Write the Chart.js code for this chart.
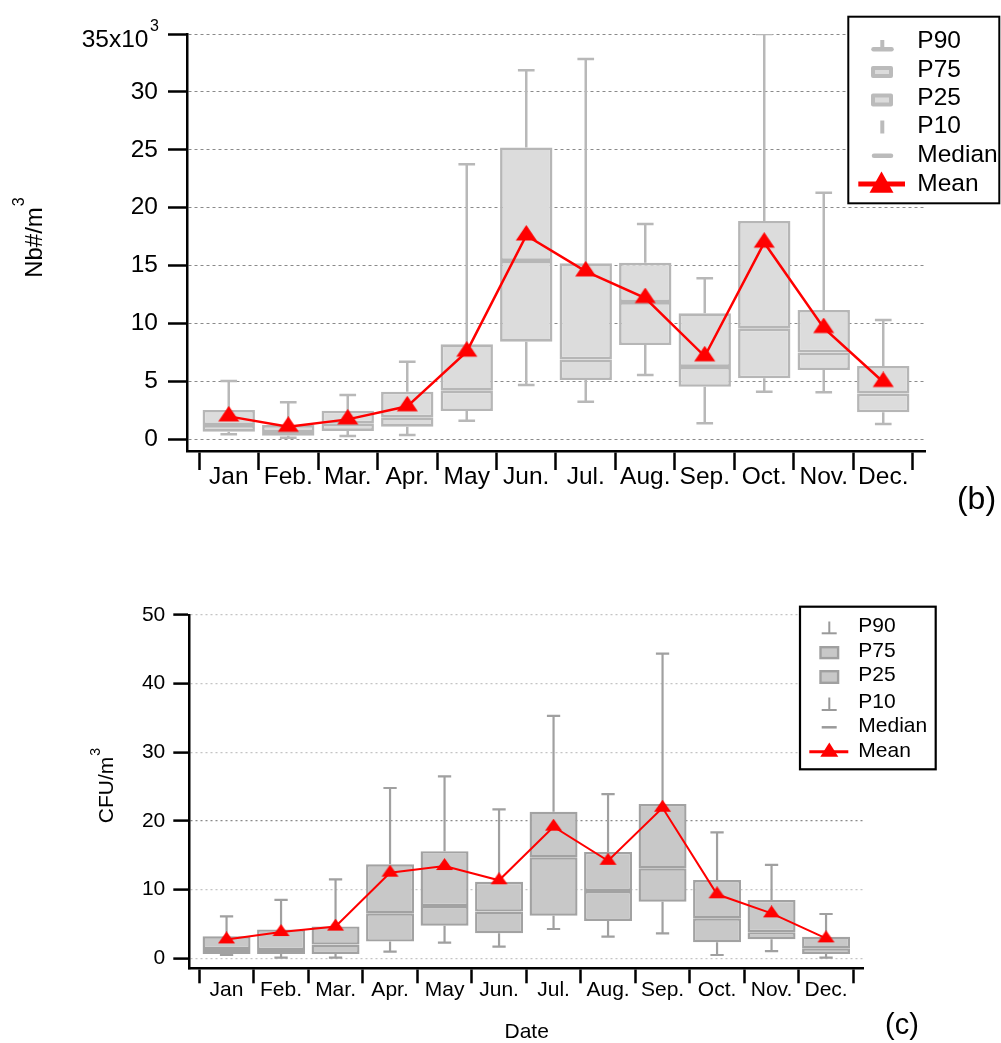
<!DOCTYPE html>
<html>
<head>
<meta charset="utf-8">
<script src="https://cdn.jsdelivr.net/npm/chart.js@4.4.1/dist/chart.umd.min.js"></script>
<style>
  html, body { margin: 0; padding: 0; background: #fff; }
  #wrap { position: relative; width: 1001px; height: 1043px; overflow: hidden; }
  canvas { position: absolute; left: 0; }
  #chartB { top: 0; }
  #chartC { top: 540px; }
</style>
</head>
<body>
<div id="wrap">
  <canvas id="chartB" width="1001" height="540"></canvas>
  <canvas id="chartC" width="1001" height="503"></canvas>
</div>
<script>
// ---- data -------------------------------------------------------------
const months = ['Jan', 'Feb.', 'Mar.', 'Apr.', 'May', 'Jun.', 'Jul.', 'Aug.', 'Sep.', 'Oct.', 'Nov.', 'Dec.'];

// (b) particle number concentration, in 10^3 Nb#/m3
const bP10    = [0.43, 0.14, 0.28, 0.37, 1.60, 4.69, 3.25, 5.55, 1.38, 4.11, 4.06, 1.32];
const bP25    = [0.66, 0.31, 0.72, 1.09, 2.44, 8.43, 5.12, 8.14, 4.54, 5.27, 5.98, 2.33];
const bMedian = [1.23, 0.63, 1.38, 1.90, 4.20, 15.40, 6.90, 11.85, 6.25, 9.55, 7.50, 3.95];
const bP75    = [2.53, 1.23, 2.47, 4.11, 8.20, 25.20, 15.20, 15.25, 10.88, 18.85, 11.17, 6.33];
const bP90    = [5.03, 3.20, 3.83, 6.70, 23.75, 31.87, 32.84, 18.60, 13.90, 35.00, 21.30, 10.30];
const bMean   = [1.98, 1.08, 1.72, 2.85, 7.57, 17.60, 14.50, 12.20, 7.17, 16.98, 9.61, 4.95];
const bTicks  = [0, 5, 10, 15, 20, 25, 30, 35];

// (c) culturable bacteria, CFU/m3
const cP10    = [0.48, 0.10, 0.10, 0.97, 2.28, 1.70, 4.27, 3.15, 3.64, 0.48, 1.06, 0.10];
const cP25    = [0.63, 0.63, 0.63, 2.43, 4.75, 3.64, 6.20, 5.43, 8.25, 2.33, 2.76, 0.63];
const cMedian = [1.35, 1.20, 2.00, 6.55, 7.60, 6.80, 14.70, 9.80, 13.10, 5.82, 3.80, 1.45];
const cP75    = [3.20, 4.20, 4.65, 13.70, 15.60, 11.15, 21.35, 15.50, 22.47, 11.40, 8.50, 3.15];
const cP90    = [6.10, 8.50, 11.50, 24.80, 26.50, 21.70, 35.30, 23.90, 44.36, 18.35, 13.60, 6.45];
const cMean   = [2.75, 3.83, 4.62, 12.47, 13.44, 11.36, 19.17, 14.20, 21.93, 9.32, 6.55, 2.91];
const cTicks  = [0, 10, 20, 30, 40, 50];

const legendLabels = ['P90', 'P75', 'P25', 'P10', 'Median', 'Mean'];

// ---- helpers ------------------------------------------------------------
const FONT = "'Liberation Sans', Arial, Helvetica, sans-serif";
Chart.defaults.font.family = FONT;
Chart.defaults.color = '#000';

// whisker segments (P10-P25, P75-P90) plus caps, separated by gaps
function whiskerPoints(p10, p25, p75, p90, capHalf) {
  const pts = [];
  p10.forEach((_, i) => {
    const gap = { x: i, y: null };
    pts.push({ x: i, y: p10[i] }, { x: i, y: p25[i] }, gap);
    pts.push({ x: i, y: p75[i] }, { x: i, y: p90[i] }, { x: i, y: null });
    pts.push({ x: i - capHalf, y: p90[i] }, { x: i + capHalf, y: p90[i] }, { x: i, y: null });
    pts.push({ x: i - capHalf, y: p10[i] }, { x: i + capHalf, y: p10[i] }, { x: i, y: null });
  });
  return pts;
}

// triangle marker whose centroid sits at the image centre
function triangleMarker(w, h, color) {
  const c = document.createElement('canvas');
  c.width = Math.ceil(w) + 2;
  c.height = Math.round(h * 4 / 3);
  const g = c.getContext('2d');
  const cx = c.width / 2;
  g.fillStyle = color;
  g.beginPath();
  g.moveTo(cx, 0);
  g.lineTo(cx + w / 2, h);
  g.lineTo(cx - w / 2, h);
  g.closePath();
  g.fill();
  return c;
}

function drawTriangle(ctx, cx, tip, base, half, color) {
  ctx.fillStyle = color;
  ctx.beginPath();
  ctx.moveTo(cx, tip);
  ctx.lineTo(cx + half, base);
  ctx.lineTo(cx - half, base);
  ctx.closePath();
  ctx.fill();
}

function line(ctx, x1, y1, x2, y2, w, color, cap) {
  ctx.strokeStyle = color;
  ctx.lineWidth = w;
  ctx.lineCap = cap || 'butt';
  ctx.beginPath();
  ctx.moveTo(x1, y1);
  ctx.lineTo(x2, y2);
  ctx.stroke();
}

// rotated axis title with a raised exponent
function rotatedTitle(ctx, cx, cy, main, sup, size, supSize, supShift) {
  ctx.save();
  ctx.translate(cx, cy);
  ctx.rotate(-Math.PI / 2);
  ctx.fillStyle = '#000';
  ctx.textBaseline = 'middle';
  ctx.textAlign = 'left';
  ctx.font = size + 'px ' + FONT;
  const w = ctx.measureText(main).width;
  ctx.fillText(main, -w / 2, 0);
  ctx.font = supSize + 'px ' + FONT;
  ctx.fillText(sup, w / 2 + 1, supShift);
  ctx.restore();
}

function boxDatasets(p25, med, p75, fill, stroke, bw) {
  const common = {
    type: 'bar', backgroundColor: fill, borderColor: stroke, borderWidth: bw,
    borderSkipped: false, grouped: false, barPercentage: 0.88, categoryPercentage: 1, order: 1
  };
  return [
    Object.assign({ data: months.map((_, i) => ({ x: i, y: [p25[i], med[i]] })) }, common),
    Object.assign({ data: months.map((_, i) => ({ x: i, y: [med[i], p75[i]] })) }, common)
  ];
}

function xAxis(range, tickLen, fontSize, pad, height) {
  return {
    type: 'linear', min: range[0], max: range[1], offset: false,
    afterBuildTicks: s => { s.ticks = months.map((_, i) => ({ value: i })); },
    afterFit: s => { s.height = height; },
    ticks: {
      autoSkip: false, maxRotation: 0, minRotation: 0, padding: pad,
      font: { size: fontSize }, color: '#000',
      callback: v => months[v] !== undefined ? months[v] : ''
    },
    grid: {
      offset: true, drawOnChartArea: false, drawTicks: true,
      tickLength: tickLen, tickWidth: 2.5, tickColor: '#000', color: '#000'
    },
    border: { display: true, color: '#000', width: 2.5 }
  };
}

// ---- (b) particle numbers -------------------------------------------------
const overlayB = {
  id: 'overlayB',
  afterDraw(chart) {
    const ctx = chart.ctx;
    const ys = chart.scales.y;
    ctx.save();
    // top tick label: 35x10^3
    const yTop = ys.getPixelForValue(bTicks[bTicks.length - 1]);
    ctx.fillStyle = '#000';
    ctx.textBaseline = 'middle';
    ctx.textAlign = 'right';
    ctx.font = '24.5px ' + FONT;
    ctx.fillText(bTicks[bTicks.length - 1] + 'x10', 148.5, yTop + 6);
    ctx.textAlign = 'left';
    ctx.font = '16px ' + FONT;
    ctx.fillText('3', 150, yTop - 7.5);

    rotatedTitle(ctx, 35, 242.5, 'Nb#/m', '3', 24, 16, -15.5);

    ctx.fillStyle = '#000';
    ctx.textAlign = 'center';
    ctx.textBaseline = 'middle';
    ctx.font = '32px ' + FONT;
    ctx.fillText('(b)', 976.5, 500);

    // legend
    ctx.fillStyle = '#fff';
    ctx.fillRect(848.3, 16.7, 151, 186.6);
    ctx.strokeStyle = '#000';
    ctx.lineWidth = 2;
    ctx.strokeRect(848.3, 16.7, 151, 186.6);
    const g = '#bbbbbb';
    const sx = 882.3;
    // P90
    line(ctx, sx, 40, sx, 49, 4, g);
    line(ctx, 873.5, 49.3, 891.5, 49.3, 4.5, g, 'round');
    // P75 / P25 boxes
    ctx.lineJoin = 'round';
    [[66, 78], [93.5, 106.5]].forEach(([t, b]) => {
      ctx.fillStyle = '#dcdcdc';
      ctx.fillRect(873, t + 2, 18, b - t - 4);
      ctx.strokeStyle = g;
      ctx.lineWidth = 4;
      ctx.strokeRect(873, t + 2, 18, b - t - 4);
    });
    // P10
    line(ctx, sx, 120.5, sx, 133.5, 4, g);
    // Median
    line(ctx, 874, 155.7, 891, 155.7, 4.5, g, 'round');
    // Mean
    line(ctx, 858.3, 184, 905, 184, 5, '#ff0000');
    drawTriangle(ctx, 881.5, 171.5, 192.7, 12, '#ff0000');
    ctx.fillStyle = '#000';
    ctx.textAlign = 'left';
    ctx.textBaseline = 'middle';
    ctx.font = '24.5px ' + FONT;
    const rowsB = [41.7, 70, 98.3, 126.7, 155, 184];
    legendLabels.forEach((t, i) => ctx.fillText(t, 917.3, rowsB[i]));
    ctx.restore();
  }
};

new Chart(document.getElementById('chartB'), {
  type: 'bar',
  data: {
    datasets: [
      {
        type: 'line', data: months.map((_, i) => ({ x: i, y: bMean[i] })),
        borderColor: '#ff0000', borderWidth: 2.5, tension: 0,
        pointStyle: triangleMarker(21, 15.5, '#ff0000'), pointRadius: 10,
        backgroundColor: '#ff0000', order: 0
      },
      ...boxDatasets(bP25, bMedian, bP75, '#dcdcdc', '#b6b6b6', 2.6),
      {
        type: 'line', data: whiskerPoints(bP10, bP25, bP75, bP90, 0.14),
        borderColor: '#b8b8b8', borderWidth: 2.5, pointRadius: 0, spanGaps: false,
        tension: 0, order: 2
      }
    ]
  },
  options: {
    responsive: false, animation: false, events: [],
    layout: { autoPadding: false, padding: { left: 0, top: 34, right: 76, bottom: 0 } },
    plugins: { legend: { display: false }, tooltip: { enabled: false } },
    scales: {
      x: xAxis([-0.7017, 11.7017], 19, 24.5, -7, 89),
      y: {
        type: 'linear', min: -1.01, max: 35,
        afterBuildTicks: s => { s.ticks = bTicks.map(v => ({ value: v })); },
        afterFit: s => { s.width = 187; },
        ticks: {
          padding: 10, font: { size: 24.5 }, color: '#000',
          callback: v => (v === bTicks[bTicks.length - 1] ? '' : String(v))
        },
        grid: {
          color: '#8a8a8a', lineWidth: 1, drawTicks: true, tickLength: 19,
          tickWidth: 2.5, tickColor: '#000'
        },
        border: { display: true, color: '#000', width: 2.5, dash: [3, 3] }
      }
    }
  },
  plugins: [overlayB]
});

// ---- (c) culturable bacteria ------------------------------------------------
const overlayC = {
  id: 'overlayC',
  afterDraw(chart) {
    const ctx = chart.ctx;
    ctx.save();
    rotatedTitle(ctx, 107.5, 250, 'CFU/m', '3', 21, 14, -11);

    ctx.fillStyle = '#000';
    ctx.textBaseline = 'middle';
    ctx.textAlign = 'center';
    ctx.font = '21px ' + FONT;
    ctx.fillText('Date', 526.7, 492.7);
    ctx.font = '29px ' + FONT;
    ctx.fillText('(c)', 902, 486);

    // legend
    ctx.fillStyle = '#fff';
    ctx.fillRect(800, 66.7, 135.7, 162.6);
    ctx.strokeStyle = '#000';
    ctx.lineWidth = 2.2;
    ctx.strokeRect(800, 66.7, 135.7, 162.6);
    const g = '#9a9a9a';
    const sx = 829.3;
    // P90
    line(ctx, sx, 81.5, sx, 93.3, 2, g);
    line(ctx, 821.7, 93.3, 836.7, 93.3, 2, g);
    // P75 / P25 boxes
    [[106, 119.3], [130, 144]].forEach(([t, b]) => {
      ctx.fillStyle = '#c8c8c8';
      ctx.fillRect(820.5, t + 1.2, 17.6, b - t - 2.4);
      ctx.strokeStyle = '#a0a0a0';
      ctx.lineWidth = 2.4;
      ctx.strokeRect(820.5, t + 1.2, 17.6, b - t - 2.4);
    });
    // P10
    line(ctx, sx, 157.5, sx, 170, 2, g);
    line(ctx, 821.7, 170, 836.7, 170, 2, g);
    // Median
    line(ctx, 821.7, 187.3, 836.7, 187.3, 2.5, g);
    // Mean
    line(ctx, 809.3, 211.7, 848.3, 211.7, 3, '#ff0000');
    drawTriangle(ctx, 829.3, 202.5, 216.7, 9, '#ff0000');
    ctx.fillStyle = '#000';
    ctx.textAlign = 'left';
    ctx.textBaseline = 'middle';
    ctx.font = '21px ' + FONT;
    const rowsC = [86, 111, 135.3, 162, 186.7, 211.7];
    legendLabels.forEach((t, i) => ctx.fillText(t, 858.3, rowsC[i]));
    ctx.restore();
  }
};

new Chart(document.getElementById('chartC'), {
  type: 'bar',
  data: {
    datasets: [
      {
        type: 'line', data: months.map((_, i) => ({ x: i, y: cMean[i] })),
        borderColor: '#ff0000', borderWidth: 2, tension: 0,
        pointStyle: triangleMarker(17, 12, '#ff0000'), pointRadius: 8,
        backgroundColor: '#ff0000', order: 0
      },
      ...boxDatasets(cP25, cMedian, cP75, '#c8c8c8', '#a2a2a2', 2.4),
      {
        type: 'line', data: whiskerPoints(cP10, cP25, cP75, cP90, 0.122),
        borderColor: '#a0a0a0', borderWidth: 2.2, pointRadius: 0, spanGaps: false,
        tension: 0, order: 2
      }
    ]
  },
  options: {
    responsive: false, animation: false, events: [],
    layout: { autoPadding: false, padding: { left: 0, top: 75, right: 137.7, bottom: 0 } },
    plugins: { legend: { display: false }, tooltip: { enabled: false } },
    scales: {
      x: xAxis([-0.6835, 11.6835], 15, 21, -5.9, 74.7),
      y: {
        type: 'linear', min: -1.456, max: 50,
        afterBuildTicks: s => { s.ticks = cTicks.map(v => ({ value: v })); },
        afterFit: s => { s.width = 189.3; },
        ticks: { padding: 8, font: { size: 21 }, color: '#000' },
        grid: {
          color: c => (c.tick && c.tick.value === 20 ? '#8a8a8a' : '#c4c4c4'),
          lineWidth: 1.2, drawTicks: true, tickLength: 16,
          tickWidth: 2.5, tickColor: '#000'
        },
        border: { display: true, color: '#000', width: 2.5, dash: [2, 3] }
      }
    }
  },
  plugins: [overlayC]
});
</script>
</body>
</html>
